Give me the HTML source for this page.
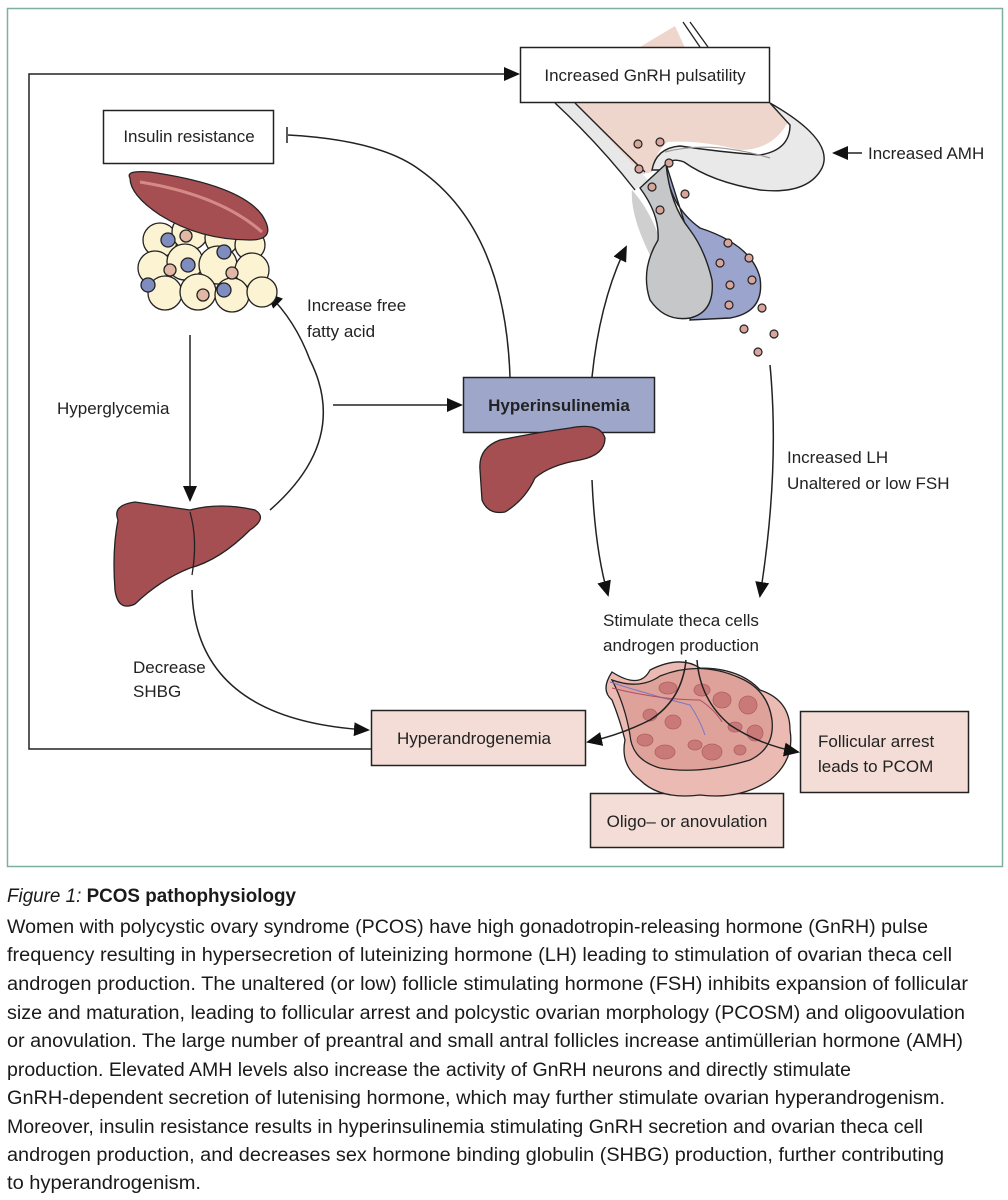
<!DOCTYPE html>
<html><head><meta charset="utf-8"><style>
html,body{margin:0;padding:0;background:#fff;}
svg{display:block;}
text{font-family:"Liberation Sans",sans-serif;fill:#222;}
.cap{font-family:"Liberation Sans Narrow","Liberation Sans",sans-serif;font-size:19px;fill:#1a1a1a;}
</style></head><body>
<svg width="1008" height="1200" viewBox="0 0 1008 1200" xmlns="http://www.w3.org/2000/svg">
<defs>
<marker id="b" markerWidth="16" markerHeight="16" refX="14" refY="8" orient="auto" markerUnits="userSpaceOnUse" viewBox="0 0 16 16">
<path d="M0,1 L16,8 L0,15 z" fill="#111"/></marker>
</defs>
<rect x="7.5" y="8.5" width="995" height="858" fill="#fff" stroke="#7fb09c" stroke-width="1.5"/>

<!-- pituitary -->
<path d="M635,50 L675,26 L686,50 Z" fill="#efd6cc"/>
<path d="M683,22 L700,47 M690,22 L708,47" fill="none" stroke="#222" stroke-width="1.3"/>
<path d="M565,103 L770,103 L790,118 Q775,150 740,150 Q700,140 668,142 Q656,150 652,172 L640,175 Z" fill="#efd6cc"/>
<path d="M555,103 Q600,145 635,190 L648,180 Q610,140 575,103 Z" fill="#e8e8e8"/>
<path d="M555,103 Q600,145 635,190 M575,103 Q612,140 645,172" fill="none" stroke="#222" stroke-width="1.4"/>
<path d="M770,103 Q835,140 822,168 Q808,195 760,190 Q712,182 684,162 Q668,156 664,170 L652,170 Q656,148 680,146 Q720,152 760,155 Q790,150 790,125 Z" fill="#e9e9e9" stroke="#222" stroke-width="1.4"/>
<path d="M665,152 Q710,140 770,158" fill="none" stroke="#999" stroke-width="1.2"/>
<path d="M632,190 Q650,210 660,240 L650,255 Q630,215 632,190 Z" fill="#cfcfcf"/>
<path d="M666,164 Q668,205 700,228 Q752,245 760,278 Q765,312 730,318 L690,320 Q700,280 690,240 Z" fill="#9aa4cc" stroke="#222" stroke-width="1.4"/>
<path d="M640,188 Q660,215 658,240 Q640,270 650,300 Q665,322 690,318 Q715,312 712,280 Q705,250 690,230 Q670,205 666,164 Z" fill="#c6c7c9" stroke="#222" stroke-width="1.4"/>
<g fill="#d9a59a" stroke="#222" stroke-width="1.2">
<circle cx="638" cy="144" r="4"/><circle cx="660" cy="142" r="4"/><circle cx="639" cy="169" r="4"/><circle cx="669" cy="163" r="4"/>
<circle cx="652" cy="187" r="4"/><circle cx="685" cy="194" r="4"/><circle cx="660" cy="210" r="4"/>
<circle cx="728" cy="243" r="4"/><circle cx="720" cy="263" r="4"/><circle cx="749" cy="258" r="4"/><circle cx="730" cy="285" r="4"/>
<circle cx="752" cy="280" r="4"/><circle cx="729" cy="305" r="4"/><circle cx="762" cy="308" r="4"/><circle cx="744" cy="329" r="4"/>
<circle cx="774" cy="334" r="4"/><circle cx="758" cy="352" r="4"/></g>

<!-- boxes -->
<rect x="520.5" y="47.5" width="249" height="55" fill="#fff" stroke="#222" stroke-width="1.5"/>
<text x="645" y="81" font-size="17" text-anchor="middle">Increased GnRH pulsatility</text>
<rect x="103.5" y="110.5" width="170" height="53" fill="#fff" stroke="#222" stroke-width="1.5"/>
<text x="189" y="142" font-size="17" text-anchor="middle">Insulin resistance</text>
<rect x="463.5" y="377.5" width="191" height="55" fill="#9ea7ca" stroke="#222" stroke-width="1.5"/>
<text x="559" y="411" font-size="17" font-weight="bold" text-anchor="middle">Hyperinsulinemia</text>
<rect x="371.5" y="710.5" width="214" height="55" fill="#f3ddd6" stroke="#222" stroke-width="1.5"/>
<text x="474" y="744" font-size="17" text-anchor="middle">Hyperandrogenemia</text>
<rect x="800.5" y="711.5" width="168" height="81" fill="#f3ddd6" stroke="#222" stroke-width="1.5"/>
<text x="818" y="747" font-size="17">Follicular arrest</text>
<text x="818" y="772" font-size="17">leads to PCOM</text>
<rect x="590.5" y="793.5" width="193" height="54" fill="#f3ddd6" stroke="#222" stroke-width="1.5"/>
<text x="687" y="827" font-size="17" text-anchor="middle">Oligo– or anovulation</text>

<!-- labels -->
<text x="868" y="159" font-size="17">Increased AMH</text>
<text x="57" y="414" font-size="17">Hyperglycemia</text>
<text x="307" y="311" font-size="17">Increase free</text>
<text x="307" y="337" font-size="17">fatty acid</text>
<text x="133" y="673" font-size="17">Decrease</text>
<text x="133" y="697" font-size="17">SHBG</text>
<text x="787" y="463" font-size="17">Increased LH</text>
<text x="787" y="489" font-size="17">Unaltered or low FSH</text>
<text x="603" y="626" font-size="17">Stimulate theca cells</text>
<text x="603" y="651" font-size="17">androgen production</text>

<!-- connectors -->
<g fill="none" stroke="#222" stroke-width="1.5">
<path d="M371,749 L29,749 L29,74 L518,74" marker-end="url(#b)"/>
<path d="M510,377 Q505,230 420,170 Q380,140 288,135"/>
<path d="M287,127 L287,143"/>
<path d="M592,377 Q600,300 626,247" marker-end="url(#b)"/>
<path d="M862,153 L834,153" marker-end="url(#b)"/>
<path d="M190,335 L190,500" marker-end="url(#b)"/>
<path d="M270,510 Q350,440 310,360 Q295,320 268,294" marker-end="url(#b)"/>
<path d="M333,405 L461,405" marker-end="url(#b)"/>
<path d="M192,590 Q195,720 368,730" marker-end="url(#b)"/>
<path d="M592,480 Q595,550 608,595" marker-end="url(#b)"/>
<path d="M770,365 Q780,470 760,596" marker-end="url(#b)"/>
</g>

<!-- liver top + adipose -->
<g stroke="#222" stroke-width="1.3">
<g fill="#fbf3d2">
<circle cx="160" cy="240" r="17"/><circle cx="190" cy="232" r="18"/><circle cx="222" cy="238" r="17"/><circle cx="250" cy="245" r="15"/>
<circle cx="155" cy="268" r="17"/><circle cx="185" cy="262" r="18"/><circle cx="218" cy="265" r="19"/><circle cx="252" cy="270" r="17"/>
<circle cx="165" cy="293" r="17"/><circle cx="198" cy="292" r="18"/><circle cx="232" cy="295" r="17"/><circle cx="262" cy="292" r="15"/>
</g>
<g fill="#7f8cc0"><circle cx="168" cy="240" r="7"/><circle cx="188" cy="265" r="7"/><circle cx="148" cy="285" r="7"/><circle cx="224" cy="252" r="7"/><circle cx="224" cy="290" r="7"/></g>
<g fill="#e2b7a5"><circle cx="186" cy="236" r="6"/><circle cx="170" cy="270" r="6"/><circle cx="232" cy="273" r="6"/><circle cx="203" cy="295" r="6"/></g>
<path d="M130,178 Q125,170 150,172 Q240,185 262,215 Q278,240 250,240 Q200,240 160,215 Q130,195 130,178 Z" fill="#a64f52"/>
</g>
<path d="M140,182 Q220,195 262,232" fill="none" stroke="#d68a88" stroke-width="3"/>

<!-- liver lower -->
<path d="M118,520 Q112,505 135,502 L190,510 Q220,502 255,510 Q268,518 250,530 Q220,560 190,568 Q160,580 135,604 Q118,612 115,590 Q112,550 118,520 Z" fill="#a64f52" stroke="#222" stroke-width="1.3"/>
<path d="M190,512 Q198,540 192,575" fill="none" stroke="#222" stroke-width="1.3"/>

<!-- pancreas -->
<path d="M480,470 Q478,448 500,440 Q540,432 570,428 Q600,422 605,438 Q605,455 580,460 Q550,465 535,478 Q525,500 505,512 Q488,515 482,500 Z" fill="#a64f52" stroke="#222" stroke-width="1.3"/>

<!-- ovary -->
<path d="M612,672 Q640,690 650,670 Q680,655 700,668 Q740,668 760,690 Q790,700 790,730 Q795,760 770,780 Q740,800 700,795 Q660,800 640,780 Q620,765 625,740 Q620,720 612,700 Q600,690 612,672 Z" fill="#ebbab3" stroke="#222" stroke-width="1.3"/>
<path d="M612,680 Q640,690 660,676 Q700,660 740,678 Q768,690 772,720 Q775,748 750,760 Q700,775 660,768 Q632,760 630,735 Q625,705 612,680 Z" fill="#dea29b" stroke="#222" stroke-width="1.3"/>
<g fill="#c97a78" stroke="#b15f60" stroke-width="0.8">
<ellipse cx="668" cy="688" rx="9" ry="6"/><ellipse cx="702" cy="690" rx="8" ry="6"/><ellipse cx="722" cy="700" rx="9" ry="8"/><ellipse cx="748" cy="705" rx="9" ry="9"/>
<ellipse cx="650" cy="715" rx="7" ry="6"/><ellipse cx="673" cy="722" rx="8" ry="7"/><ellipse cx="735" cy="727" rx="7" ry="5"/><ellipse cx="755" cy="733" rx="8" ry="8"/>
<ellipse cx="645" cy="740" rx="8" ry="6"/><ellipse cx="665" cy="752" rx="10" ry="7"/><ellipse cx="695" cy="745" rx="7" ry="5"/><ellipse cx="712" cy="752" rx="10" ry="8"/><ellipse cx="740" cy="750" rx="6" ry="5"/>
</g>
<g fill="none" stroke-width="1"><path d="M610,682 Q650,695 690,705 Q700,720 705,735" stroke="#7a78c0"/><path d="M612,688 Q660,700 700,700 Q715,710 722,722" stroke="#b34a60"/></g>
<g fill="none" stroke="#222" stroke-width="1.5">
<path d="M686,660 Q682,700 650,720 Q620,735 588,742" marker-end="url(#b)"/>
<path d="M697,660 Q700,700 730,725 Q760,745 798,752" marker-end="url(#b)"/>
</g>

<!-- caption -->
<text x="7" y="902" font-size="19" class="cap" textLength="289" lengthAdjust="spacingAndGlyphs"><tspan font-style="italic">Figure 1:</tspan><tspan font-weight="bold"> PCOS pathophysiology</tspan></text>
<g class="cap">
<text x="7" y="933" class="cap" textLength="921" lengthAdjust="spacingAndGlyphs">Women with polycystic ovary syndrome (PCOS) have high gonadotropin-releasing hormone (GnRH) pulse</text>
<text x="7" y="961" class="cap" textLength="945" lengthAdjust="spacingAndGlyphs">frequency resulting in hypersecretion of luteinizing hormone (LH) leading to stimulation of ovarian theca cell</text>
<text x="7" y="990" class="cap" textLength="961" lengthAdjust="spacingAndGlyphs">androgen production. The unaltered (or low) follicle stimulating hormone (FSH) inhibits expansion of follicular</text>
<text x="7" y="1019" class="cap" textLength="958" lengthAdjust="spacingAndGlyphs">size and maturation, leading to follicular arrest and polcystic ovarian morphology (PCOSM) and oligoovulation</text>
<text x="7" y="1047" class="cap" textLength="956" lengthAdjust="spacingAndGlyphs">or anovulation. The large number of preantral and small antral follicles increase antimüllerian hormone (AMH)</text>
<text x="7" y="1076" class="cap" textLength="844" lengthAdjust="spacingAndGlyphs">production. Elevated AMH levels also increase the activity of GnRH neurons and directly stimulate</text>
<text x="7" y="1104" class="cap" textLength="938" lengthAdjust="spacingAndGlyphs">GnRH-dependent secretion of lutenising hormone, which may further stimulate ovarian hyperandrogenism.</text>
<text x="7" y="1133" class="cap" textLength="916" lengthAdjust="spacingAndGlyphs">Moreover, insulin resistance results in hyperinsulinemia stimulating GnRH secretion and ovarian theca cell</text>
<text x="7" y="1161" class="cap" textLength="937" lengthAdjust="spacingAndGlyphs">androgen production, and decreases sex hormone binding globulin (SHBG) production, further contributing</text>
<text x="7" y="1189" class="cap" textLength="194" lengthAdjust="spacingAndGlyphs">to hyperandrogenism.</text>
</g>
</svg>
</body></html>
